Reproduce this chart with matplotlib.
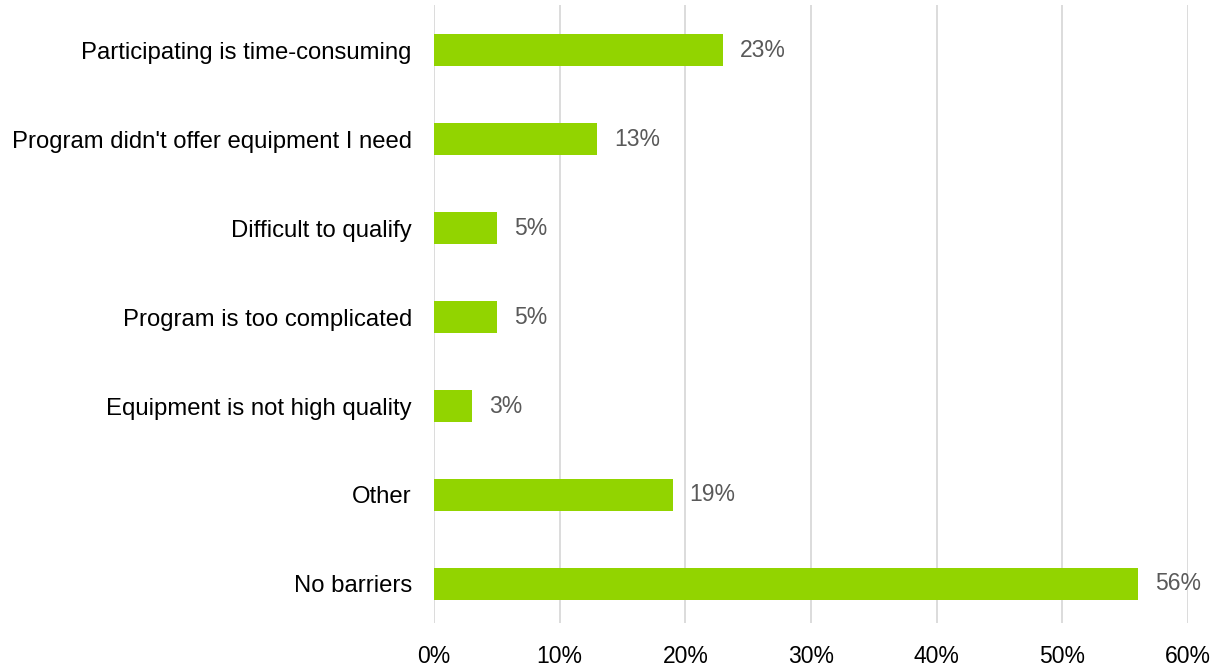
import matplotlib
matplotlib.use("Agg")
import matplotlib.pyplot as plt
from matplotlib.ticker import PercentFormatter

plt.rcParams['font.family'] = ['Liberation Sans', 'DejaVu Sans']

categories = [
    "Participating is time-consuming",
    "Program didn't offer equipment I need",
    "Difficult to qualify",
    "Program is too complicated",
    "Equipment is not high quality",
    "Other",
    "No barriers",
]
values = [23, 13, 5, 5, 3, 19, 56]
xticks = [0, 10, 20, 30, 40, 50, 60]

fig = plt.figure(figsize=(12.2, 6.68), dpi=100)
ax = fig.add_axes([434 / 1220, 1 - 623 / 668, (1188 - 434) / 1220, (623 - 5) / 668])

pos = list(range(len(categories)))
ax.barh(pos, values, height=0.36, color="#92D400", zorder=3)

# value labels just right of each bar
for p, v in zip(pos, values):
    ax.text(v + 1.35, p, f"{v}%", va="center", ha="left", fontsize=16.5, color="#595959")

ax.set_xlim(0, 60)
ax.set_ylim(6.44, -0.51)
ax.set_yticks(pos)
ax.set_yticklabels(categories, fontsize=17.2, color="black")
ax.set_xticks(xticks)
ax.xaxis.set_major_formatter(PercentFormatter(decimals=0))
ax.tick_params(axis="x", labelsize=16.5, length=0, pad=15.5)
ax.tick_params(axis="y", length=0, pad=16)
ax.grid(axis="x", color="#D9D9D9", linewidth=1.3, zorder=0)
for s in ax.spines.values():
    s.set_visible(False)

fig.savefig("out.png", dpi=100)
